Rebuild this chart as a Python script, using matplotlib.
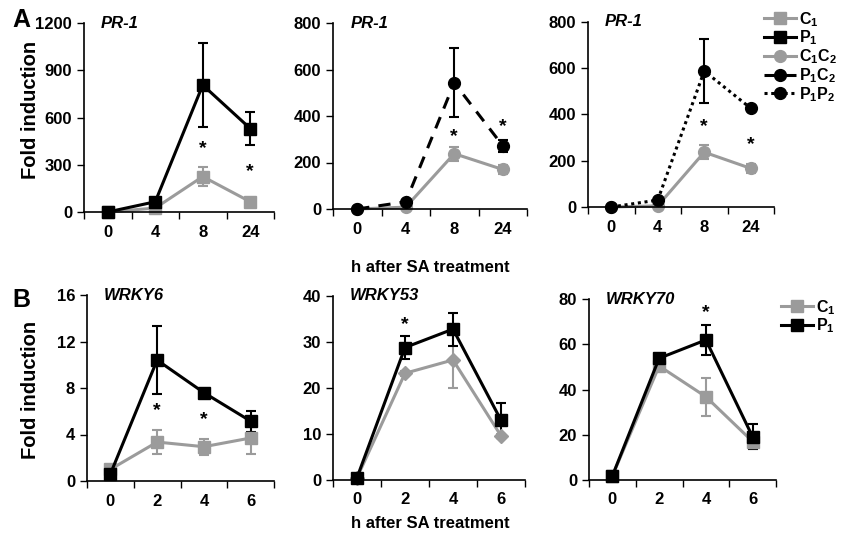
import numpy as np
import matplotlib
matplotlib.use("Agg")
import matplotlib.pyplot as plt

plt.rcParams["font.family"] = ["Liberation Sans", "DejaVu Sans"]
plt.rcParams["font.weight"] = "bold"
plt.rcParams["mathtext.fontset"] = "custom"
plt.rcParams["mathtext.rm"] = "Liberation Sans:bold"
plt.rcParams["mathtext.bf"] = "Liberation Sans:bold"
plt.rcParams["mathtext.it"] = "Liberation Sans:bold:italic"

GRAY = "#9b9b9b"

#! datos panel A (PR-1)
hours_a = ["0", "4", "8", "24"]
a1_c1 = [0, 25, 225, 65]
a1_c1_err = [0, 5, 63, 8]
a1_p1 = [0, 65, 806, 530]
a1_p1_err = [0, 10, 267, 107]
a1_star = [None, None, 400, 255]

a2_c1c2 = [0, 8, 238, 170]
a2_c1c2_err = [0, 3, 30, 20]
a2_p1c2 = [0, 31, 543, 272]
a2_p1c2_err = [0, 5, 148, 25]
a2_star = [None, None, 311, 354]

a3_c1c2 = [0, 5, 237, 167]
a3_c1c2_err = [0, 3, 30, 20]
a3_p1p2 = [0, 30, 588, 427]
a3_p1p2_err = [0, 5, 138, 5]
a3_star = [None, None, 347, 272]

#! datos panel B (WRKY)
hours_b = ["0", "2", "4", "6"]
b1_c1 = [1.0, 3.35, 2.95, 3.7]
b1_c1_err = [0.2, 1.0, 0.7, 1.4]
b1_p1 = [0.6, 10.4, 7.6, 5.15]
b1_p1_err = [0.1, 2.9, 0.2, 0.9]
b1_star = [None, 6.05, 5.3, None]

b2_c1 = [0.5, 23.2, 26.1, 9.6]
b2_c1_err = [0.2, 0.5, 6.0, 0.5]
b2_p1 = [0.5, 28.8, 32.8, 13.0]
b2_p1_err = [0.2, 2.5, 3.6, 3.8]
b2_star = [None, 33.7, None, None]

b3_c1 = [1.8, 50.4, 36.8, 17.0]
b3_c1_err = [0.3, 1.0, 8.5, 3.5]
b3_p1 = [1.8, 53.8, 61.9, 19.1]
b3_p1_err = [0.3, 1.5, 6.5, 5.5]
b3_star = [None, None, 74, None]

W, H = 841, 534
fig = plt.figure(figsize=(W / 100, H / 100), dpi=100)

TICK_FS = 12


def make_ax(left, right, top, bottom):
    return fig.add_axes([left / W, 1 - bottom / H, (right - left) / W, (bottom - top) / H])


def setup(ax, labels, ymax, step, gene):
    ax.set_xlim(0, 4)
    ax.set_ylim(0, ymax)
    ax.set_yticks(np.arange(0, ymax + 1, step))
    ax.set_xticks([0, 1, 2, 3, 4])
    ax.set_xticklabels([])
    ax.set_xticks(np.arange(4) + 0.5, minor=True)
    ax.set_xticklabels(labels, minor=True)
    ax.tick_params(axis="x", which="major", direction="out", length=5, width=1)
    ax.tick_params(axis="x", which="minor", length=0, pad=9, labelsize=TICK_FS)
    ax.tick_params(axis="y", direction="out", length=5, width=1, labelsize=TICK_FS)
    for s in ["top", "right"]:
        ax.spines[s].set_visible(False)
    for s in ["left", "bottom"]:
        ax.spines[s].set_linewidth(1.2)
    ax.text(0.09, 1.0, gene, transform=ax.transAxes, fontsize=12,
            fontstyle="italic", fontweight="bold", va="center", ha="left")


def series(ax, y, err, color, marker, ls, label, ms=8.5):
    x = np.arange(len(y)) + 0.5
    h = ax.errorbar(x, y, yerr=err, color=color, marker=marker, ls=ls, lw=2.2,
                    markersize=ms, capsize=3.5, elinewidth=1.5, capthick=1.5,
                    label=label, clip_on=False)
    return h[0]


def stars(ax, vals):
    for i, v in enumerate(vals):
        if v is not None:
            ax.text(i + 0.5, v, "*", ha="center", va="center", fontsize=14)


#! fila A
ax1 = make_ax(84, 274, 23, 212)
setup(ax1, hours_a, 1200, 300, "PR-1")
h_c1 = series(ax1, a1_c1, a1_c1_err, GRAY, "s", "-", r"C$_1$")
h_p1 = series(ax1, a1_p1, a1_p1_err, "black", "s", "-", r"P$_1$")
stars(ax1, a1_star)

ax2 = make_ax(333, 527, 23, 209)
setup(ax2, hours_a, 800, 200, "PR-1")
h_c1c2 = series(ax2, a2_c1c2, a2_c1c2_err, GRAY, "o", "-", r"C$_1$C$_2$")
h_p1c2 = series(ax2, a2_p1c2, a2_p1c2_err, "black", "o", (0, (4, 3)), r"P$_1$C$_2$")
stars(ax2, a2_star)

ax3 = make_ax(588, 774, 22, 207)
setup(ax3, hours_a, 800, 200, "PR-1")
series(ax3, a3_c1c2, a3_c1c2_err, GRAY, "o", "-", r"C$_1$C$_2$")
h_p1p2 = series(ax3, a3_p1p2, a3_p1p2_err, "black", "o", (0, (1, 1.2)), r"P$_1$P$_2$")
stars(ax3, a3_star)

fig.legend([h_c1, h_p1, h_c1c2, h_p1c2, h_p1p2],
           [r"C$_1$", r"P$_1$", r"C$_1$C$_2$", r"P$_1$C$_2$", r"P$_1$P$_2$"],
           loc="upper left", bbox_to_anchor=(764 / W, 1 - 10 / H), frameon=False,
           fontsize=11.5, handlelength=2.0, handletextpad=0.2, labelspacing=0.0,
           borderpad=0, borderaxespad=0)

fig.text(430 / W, 1 - 267 / H, "h after SA treatment", ha="center", va="center", fontsize=12)
fig.text(12 / W, 1 - 20 / H, "A", fontsize=18, fontweight="bold", va="center")
fig.text(30 / W, 1 - 110 / H, "Fold induction", rotation=90, ha="center", va="center", fontsize=14.5)

#! fila B
bx1 = make_ax(87, 274, 295, 481)
setup(bx1, hours_b, 16, 4, "WRKY6")
g_c1 = series(bx1, b1_c1, b1_c1_err, GRAY, "s", "-", r"C$_1$")
g_p1 = series(bx1, b1_p1, b1_p1_err, "black", "s", "-", r"P$_1$")
stars(bx1, b1_star)

bx2 = make_ax(333, 525, 296, 480)
setup(bx2, hours_b, 40, 10, "WRKY53")
series(bx2, b2_c1, b2_c1_err, GRAY, "D", "-", r"C$_1$", ms=7)
series(bx2, b2_p1, b2_p1_err, "black", "s", "-", r"P$_1$")
stars(bx2, b2_star)

bx3 = make_ax(589, 776, 299, 480)
setup(bx3, hours_b, 80, 20, "WRKY70")
series(bx3, b3_c1, b3_c1_err, GRAY, "s", "-", r"C$_1$")
series(bx3, b3_p1, b3_p1_err, "black", "s", "-", r"P$_1$")
stars(bx3, b3_star)

fig.legend([g_c1, g_p1], [r"C$_1$", r"P$_1$"],
           loc="upper left", bbox_to_anchor=(781 / W, 1 - 298 / H), frameon=False,
           fontsize=11.5, handlelength=2.0, handletextpad=0.2, labelspacing=0.0,
           borderpad=0, borderaxespad=0)

fig.text(430 / W, 1 - 523 / H, "h after SA treatment", ha="center", va="center", fontsize=12)
fig.text(12 / W, 1 - 300 / H, "B", fontsize=18, fontweight="bold", va="center")
fig.text(30 / W, 1 - 390 / H, "Fold induction", rotation=90, ha="center", va="center", fontsize=14.5)

fig.savefig("out.png", dpi=100)
